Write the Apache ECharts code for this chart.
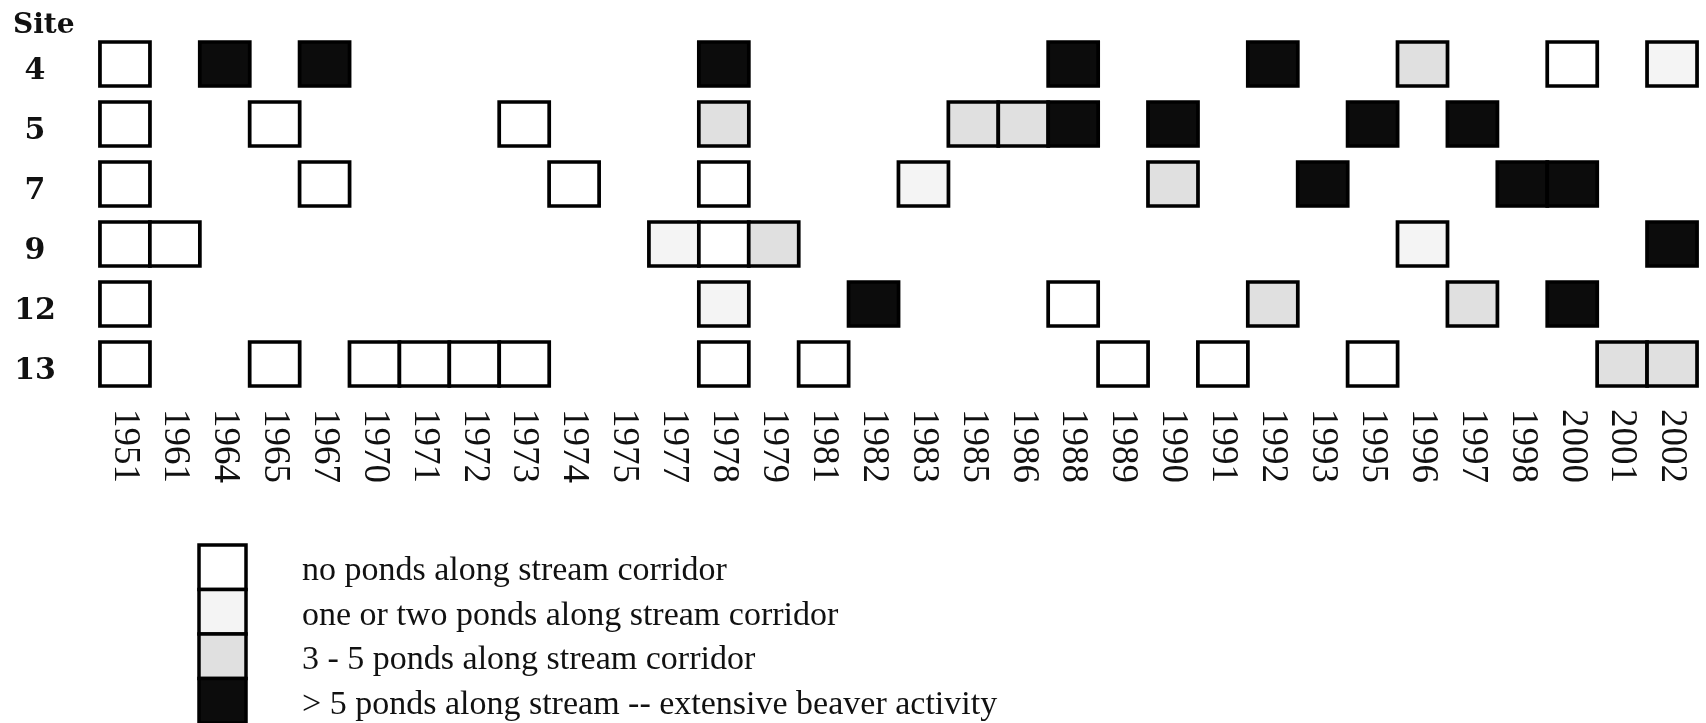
<!DOCTYPE html>
<html>
<head>
<meta charset="utf-8">
<script src="https://cdn.jsdelivr.net/npm/echarts@6/dist/echarts.min.js"></script>
<style>
html, body { margin: 0; padding: 0; background: #fff; }
#main { width: 1706px; height: 723px; }
</style>
</head>
<body>
<div id="main"></div>
<script>
var years = ['1951', '1961', '1964', '1965', '1967', '1970', '1971', '1972', '1973', '1974',
  '1975', '1977', '1978', '1979', '1981', '1982', '1983', '1985', '1986', '1988',
  '1989', '1990', '1991', '1992', '1993', '1995', '1996', '1997', '1998', '2000',
  '2001', '2002'];
var sites = ['4', '5', '7', '9', '12', '13'];

var levelNames = [
  'no ponds along stream corridor',
  'one or two ponds along stream corridor',
  '3 - 5 ponds along stream corridor',
  '> 5 ponds along stream -- extensive beaver activity'
];
var levelColors = ['#ffffff', '#f4f4f4', '#e0e0e0', '#0c0c0c'];

// [year, level] for each site: 0 none, 1 one or two, 2 three to five, 3 more than five
var site4 = [['1951', 0], ['1964', 3], ['1967', 3], ['1978', 3], ['1988', 3], ['1992', 3],
  ['1996', 2], ['2000', 0], ['2002', 1]];
var site5 = [['1951', 0], ['1965', 0], ['1973', 0], ['1978', 2], ['1985', 2], ['1986', 2],
  ['1988', 3], ['1990', 3], ['1995', 3], ['1997', 3]];
var site7 = [['1951', 0], ['1967', 0], ['1974', 0], ['1978', 0], ['1983', 1], ['1990', 2],
  ['1993', 3], ['1998', 3], ['2000', 3]];
var site9 = [['1951', 0], ['1961', 0], ['1977', 1], ['1978', 0], ['1979', 2], ['1996', 1],
  ['2002', 3]];
var site12 = [['1951', 0], ['1978', 1], ['1982', 3], ['1988', 0], ['1992', 2], ['1997', 2],
  ['2000', 3]];
var site13 = [['1951', 0], ['1965', 0], ['1970', 0], ['1971', 0], ['1972', 0], ['1973', 0],
  ['1978', 0], ['1981', 0], ['1989', 0], ['1991', 0], ['1995', 0], ['2001', 2], ['2002', 2]];

var siteRows = [site4, site5, site7, site9, site12, site13];
var cells = [];
siteRows.forEach(function (row, i) {
  row.forEach(function (d) {
    cells.push([d[0], sites[i], d[1]]);
  });
});

var chartDom = document.getElementById('main');
var myChart = echarts.init(chartDom, null);

// legend: stacked swatches with text, one per level
var legendItems = [];
levelNames.forEach(function (name, i) {
  legendItems.push({
    type: 'rect',
    x: 199,
    y: 545 + 44.5 * i,
    shape: { width: 47, height: 44.5 },
    style: { fill: levelColors[i], stroke: '#000', lineWidth: 3.5 }
  });
  legendItems.push({
    type: 'text',
    x: 302,
    y: 571 + 44.7 * i,
    style: {
      text: name,
      fill: '#111',
      verticalAlign: 'middle',
      font: '34px "Liberation Serif"'
    }
  });
});

var option = {
  backgroundColor: '#ffffff',
  title: {
    text: 'Site',
    left: 8,
    top: 7,
    textStyle: { fontFamily: 'DejaVu Serif', fontWeight: 'bold', fontSize: 28, color: '#111' }
  },
  grid: { left: 100, right: 9, top: 34, height: 360 },
  xAxis: {
    type: 'category',
    data: years,
    axisLine: { show: false },
    axisTick: { show: false },
    splitLine: { show: false },
    axisLabel: {
      rotate: -90,
      margin: 15,
      interval: 0,
      fontFamily: 'Liberation Serif',
      fontSize: 37,
      color: '#111'
    }
  },
  yAxis: {
    type: 'category',
    data: sites,
    inverse: true,
    axisLine: { show: false },
    axisTick: { show: false },
    splitLine: { show: false },
    axisLabel: {
      margin: 65,
      align: 'center',
      formatter: '{s|{value}}',
      rich: {
        s: {
          padding: [15, 0, 0, 0],
          fontFamily: 'DejaVu Serif',
          fontWeight: 'bold',
          fontSize: 30,
          color: '#111'
        }
      }
    }
  },
  series: [{
    type: 'scatter',
    data: cells,
    symbol: 'rect',
    symbolSize: [50, 44],
    silent: true,
    itemStyle: {
      opacity: 1,
      color: function (p) { return levelColors[p.value[2]]; },
      borderColor: '#000',
      borderWidth: 3.5
    }
  }],
  graphic: legendItems
};

myChart.setOption(option);
</script>
</body>
</html>
